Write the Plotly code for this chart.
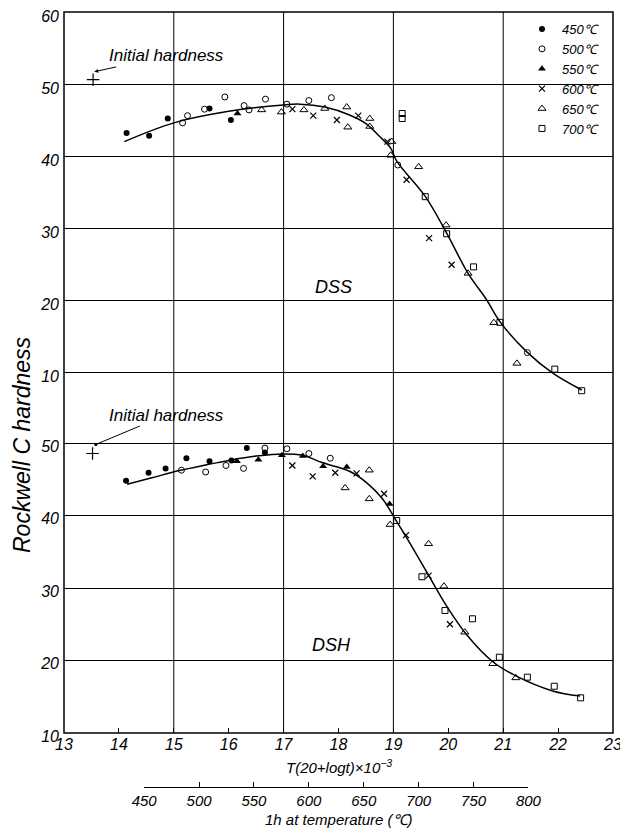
import plotly.graph_objects as go

# ---------------- data ----------------
x_ticks = list(range(13, 24))
x_grid = [15, 17, 19, 21]
y_ticks_dss = [10, 20, 30, 40, 50, 60]
y_ticks_dsh = [10, 20, 30, 40, 50]
temp_ticks = [450, 500, 550, 600, 650, 700, 750, 800]
temps = [450, 500, 550, 600, 650, 700]
legend_names = ["450℃", "500℃", "550℃", "600℃", "650℃", "700℃"]

# DSS (upper panel)
dss_450_x = [14.14, 14.55, 14.89, 15.65, 16.04]
dss_450_y = [43.2, 42.8, 45.2, 46.6, 45.0]
dss_500_x = [15.16, 15.25, 15.56, 15.93, 16.28, 16.37, 16.67, 17.06, 17.46, 17.87, 19.08, 21.44]
dss_500_y = [44.6, 45.6, 46.5, 48.2, 47.0, 46.4, 47.9, 47.2, 47.7, 48.1, 38.75, 12.7]
dss_550_x = [16.16]
dss_550_y = [45.9]
dss_600_x = [17.16, 17.54, 17.97, 18.36, 18.89, 19.24, 19.65, 20.06]
dss_600_y = [46.5, 45.6, 45.0, 45.6, 42.0, 36.7, 28.6, 24.9]
dss_650_x = [16.6, 16.96, 17.37, 17.75, 18.15, 18.17, 18.57, 18.57, 18.97, 18.95, 19.46, 19.96, 20.36, 20.83, 21.25]
dss_650_y = [46.4, 46.1, 46.4, 46.6, 46.8, 44.0, 45.2, 44.1, 42.0, 40.1, 38.5, 30.4, 23.7, 16.85, 11.2]
dss_700_x = [19.16, 19.16, 19.58, 19.97, 20.46, 20.94, 21.94, 22.43]
dss_700_y = [45.9, 45.2, 34.35, 29.2, 24.6, 16.9, 10.4, 7.4]
dss_curve_x = [14.1, 15.0, 16.0, 17.0, 17.3, 17.75, 18.2, 18.5, 18.75, 18.95, 19.06,
               19.58, 19.97, 20.36, 20.7, 20.94, 21.43, 21.91, 22.43]
dss_curve_y = [42.0, 44.6, 46.2, 47.1, 47.2, 46.8, 45.7, 44.5, 42.7, 41.1, 39.3,
               34.4, 29.3, 23.7, 20.0, 17.0, 12.8, 9.8, 7.5]
dss_initial_x = [13.53]
dss_initial_y = [50.6]

# DSH (lower panel)
dsh_450_x = [14.13, 14.54, 14.85, 15.23, 15.65, 16.05, 16.33, 16.66]
dsh_450_y = [44.8, 45.9, 46.5, 47.9, 47.5, 47.6, 49.3, 48.7]
dsh_500_x = [15.14, 15.58, 15.95, 16.27, 16.66, 17.06, 17.46, 17.85]
dsh_500_y = [46.25, 46.0, 46.9, 46.5, 49.3, 49.2, 48.55, 47.9]
dsh_550_x = [16.15, 16.54, 16.97, 17.35, 17.72, 18.15, 18.93]
dsh_550_y = [47.5, 47.7, 48.3, 48.2, 46.8, 46.7, 41.6]
dsh_600_x = [17.16, 17.53, 17.94, 18.33, 18.83, 19.23, 19.64, 20.03]
dsh_600_y = [46.9, 45.4, 45.9, 45.8, 43.0, 37.3, 31.7, 25.0]
dsh_650_x = [18.12, 18.56, 18.56, 18.94, 19.64, 19.92, 20.30, 20.81, 21.23]
dsh_650_y = [43.8, 46.25, 42.3, 38.75, 36.1, 30.25, 23.9, 19.55, 17.6]
dsh_700_x = [19.06, 19.52, 19.94, 20.44, 20.93, 21.44, 21.93, 22.41]
dsh_700_y = [39.3, 31.55, 26.9, 25.75, 20.45, 17.7, 16.45, 14.85]
dsh_curve_x = [14.15, 14.6, 15.1, 15.6, 16.0, 16.5, 17.0, 17.35, 17.7, 18.2, 18.5, 18.8,
               19.05, 19.3, 19.6, 19.97, 20.35, 20.8, 21.25, 21.9, 22.4]
dsh_curve_y = [44.3, 45.2, 46.2, 47.0, 47.6, 48.2, 48.5, 48.3, 47.3, 46.1, 44.6, 42.3,
               39.3, 36.2, 32.3, 27.5, 23.4, 19.9, 17.8, 15.8, 15.1]
dsh_initial_x = [13.52]
dsh_initial_y = [48.55]

# ---------------- styles ----------------
FONT = "Liberation Sans"
styles = {
    450: dict(symbol="circle", size=6, color="black", line=dict(width=0)),
    500: dict(symbol="circle-open", size=6, color="black", line=dict(width=1)),
    550: dict(symbol="triangle-up", size=7, color="black", line=dict(width=0)),
    600: dict(symbol="x-thin", size=6, color="black", line=dict(width=1.2, color="black")),
    650: dict(symbol="triangle-up-open", size=7, color="black", line=dict(width=1)),
    700: dict(symbol="square-open", size=6, color="black", line=dict(width=1)),
}

# page has an 8px body margin: figure is made 8px smaller and margins shifted
OFF = 8
W, H = 628 - OFF, 830 - OFF
L, R, T, B = 64 - OFF, 15, 12 - OFF, 20
PH = H - T - B
PLOT_BOTTOM = OFF + H - B  # page pixel of plot-area bottom
def fy(px):  # page pixel y -> paper fraction
    return (PLOT_BOTTOM - px) / PH
def fx(px):  # page pixel x -> paper fraction
    return (px - (L + OFF)) / (W - L - R)

top_dom = [fy(416), 1.0]
top_range = [60 - (416 - 12) / 7.2, 60]
bot_dom = [fy(733), fy(390)]
bot_range = [10, 10 + (733 - 390) / 7.25]

fig = go.Figure()

dss_sets = [(dss_450_x, dss_450_y), (dss_500_x, dss_500_y), (dss_550_x, dss_550_y),
            (dss_600_x, dss_600_y), (dss_650_x, dss_650_y), (dss_700_x, dss_700_y)]
dsh_sets = [(dsh_450_x, dsh_450_y), (dsh_500_x, dsh_500_y), (dsh_550_x, dsh_550_y),
            (dsh_600_x, dsh_600_y), (dsh_650_x, dsh_650_y), (dsh_700_x, dsh_700_y)]

fig.add_trace(go.Scatter(x=dss_curve_x, y=dss_curve_y, mode="lines", line=dict(color="black", width=1.5, shape="spline"),
                         showlegend=False, xaxis="x", yaxis="y", hoverinfo="skip"))
fig.add_trace(go.Scatter(x=dsh_curve_x, y=dsh_curve_y, mode="lines", line=dict(color="black", width=1.5, shape="spline"),
                         showlegend=False, xaxis="x", yaxis="y2", hoverinfo="skip"))

for t, name, (xs, ys) in zip(temps, legend_names, dss_sets):
    fig.add_trace(go.Scatter(x=xs, y=ys, mode="markers", name=name,
                             marker=styles[t], xaxis="x", yaxis="y"))
for t, name, (xs, ys) in zip(temps, legend_names, dsh_sets):
    fig.add_trace(go.Scatter(x=xs, y=ys, mode="markers", name=name, showlegend=False,
                             marker=styles[t], xaxis="x", yaxis="y2"))

plus = dict(symbol="cross-thin", size=9, color="black", line=dict(width=1.2, color="black"))
fig.add_trace(go.Scatter(x=dss_initial_x, y=dss_initial_y, mode="markers", marker=plus, showlegend=False, xaxis="x", yaxis="y"))
fig.add_trace(go.Scatter(x=dsh_initial_x, y=dsh_initial_y, mode="markers", marker=plus, showlegend=False, xaxis="x", yaxis="y2"))

# secondary temperature axis: T(20 + log t)x10^-3 with t = 1 h
def to_param(tc):
    return (tc + 273) * 20 / 1000
temp_pos = [to_param(t) for t in temp_ticks]
fig.add_trace(go.Scatter(x=[temp_pos[0], temp_pos[-1]], y=[None, None], mode="markers",
                         marker=dict(opacity=0), showlegend=False, xaxis="x2", yaxis="y2", hoverinfo="skip"))

tickfont = dict(family=FONT, size=16, color="black", style="italic")

fig.update_layout(
    width=W, height=H,
    margin=dict(l=L, r=R, t=T, b=B, autoexpand=False),
    paper_bgcolor="white", plot_bgcolor="rgba(0,0,0,0)",
    font=dict(family=FONT, color="black", style="italic"),
    xaxis=dict(domain=[0, 1], range=[13, 23], anchor="y2", tickvals=x_ticks, ticks="inside",
               ticklen=5, tickwidth=1, tickcolor="black", showgrid=False, zeroline=False,
               showline=False, tickfont=tickfont, automargin=False, ticklabeloverflow="allow"),
    xaxis2=dict(domain=[(temp_pos[0] - 13) / 10, (temp_pos[-1] - 13) / 10],
                range=[temp_pos[0], temp_pos[-1]], anchor="free", position=fy(787), side="bottom",
                tickvals=temp_pos, ticktext=[str(t) for t in temp_ticks], ticks="inside", ticklen=5,
                tickcolor="black", showline=True, linecolor="black", linewidth=1.3,
                showgrid=False, zeroline=False, automargin=False, ticklabeloverflow="allow",
                tickfont=dict(family=FONT, size=15, color="black", style="italic")),
    yaxis=dict(domain=top_dom, range=top_range, anchor="x", tickvals=y_ticks_dss, showgrid=True,
               gridcolor="black", gridwidth=1, zeroline=False, showline=False, ticks="",
               tickfont=tickfont, automargin=False, ticklabelstandoff=4, ticklabelshift=4,
               ticklabeloverflow="allow"),
    yaxis2=dict(domain=bot_dom, range=bot_range, anchor="x", tickvals=y_ticks_dsh, showgrid=True,
                gridcolor="black", gridwidth=1, zeroline=False, showline=False, ticks="",
                tickfont=tickfont, automargin=False, ticklabelstandoff=4, ticklabelshift=3,
                ticklabeloverflow="allow"),
    legend=dict(x=fx(522), y=fy(14), xanchor="left", yanchor="top", bgcolor="rgba(0,0,0,0)",
                font=dict(family=FONT, size=13, color="black", style="italic"), tracegroupgap=0),
    showlegend=True,
)

shapes = []
for gx in x_grid:
    shapes.append(dict(type="line", xref="x", yref="paper", x0=gx, x1=gx, y0=bot_dom[0], y1=1,
                       line=dict(color="black", width=1), layer="below"))
shapes.append(dict(type="rect", xref="paper", yref="paper", x0=0, x1=1, y0=bot_dom[0], y1=1,
                   line=dict(color="black", width=1.5)))
fig.update_layout(shapes=shapes)

ann_font = dict(family=FONT, size=17, color="black", style="italic")
fig.add_annotation(x=13.55, y=51.7, xref="x", yref="y", ax=14.86, ay=53.9, axref="x", ayref="y",
                   text="Initial hardness", showarrow=True, arrowhead=2, arrowsize=0.8, arrowwidth=1,
                   arrowcolor="black", font=ann_font)
fig.add_annotation(x=13.58, y=49.8, xref="x", yref="y2", ax=14.86, ay=53.86, axref="x", ayref="y2",
                   text="Initial hardness", showarrow=True, arrowhead=6, arrowsize=0.8, arrowwidth=1,
                   arrowcolor="black", font=ann_font)
fig.add_annotation(x=17.90, y=21.8, xref="x", yref="y", text="DSS", showarrow=False,
                   font=dict(family=FONT, size=18, color="black", style="italic"))
fig.add_annotation(x=17.88, y=22.1, xref="x", yref="y2", text="DSH", showarrow=False,
                   font=dict(family=FONT, size=18, color="black", style="italic"))
fig.add_annotation(x=0.5, y=fy(766), xref="paper", yref="paper", xanchor="center", yanchor="middle",
                   text="T(20+logt)×10<sup>−3</sup>",
                   showarrow=False, font=dict(family=FONT, size=15, color="black", style="italic"))
fig.add_annotation(x=0.5, y=fy(819), xref="paper", yref="paper", xanchor="center", yanchor="middle",
                   text="1h at temperature (℃)",
                   showarrow=False, font=dict(family=FONT, size=15, color="black", style="italic"))
fig.add_annotation(x=fx(22), y=fy(445), xref="paper", yref="paper", xanchor="center", yanchor="middle",
                   text="Rockwell C hardness", textangle=-90, showarrow=False,
                   font=dict(family=FONT, size=23, color="black", style="italic"))

fig.write_html("out.html")
